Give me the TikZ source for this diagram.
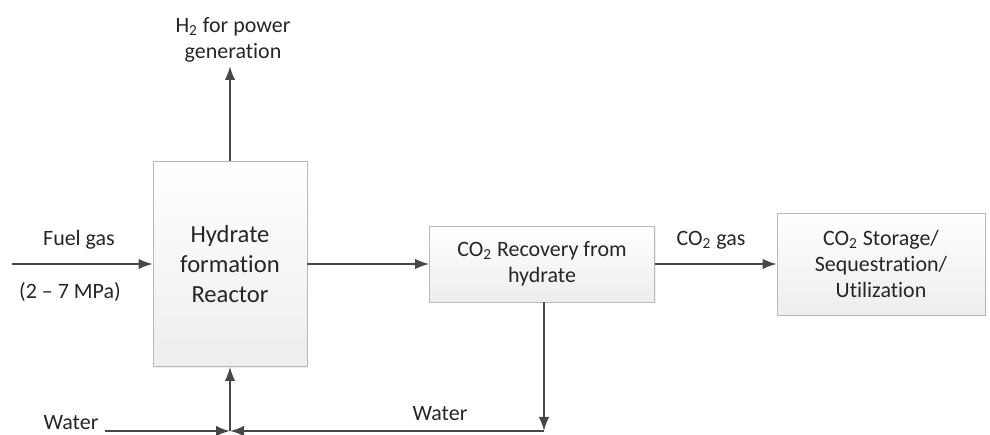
\documentclass[tikz,border=0pt]{standalone}
\usepackage{fontspec}
\setmainfont{Carlito}[Ligatures=NoCommon]
\usetikzlibrary{arrows.meta,shadows}
\begin{document}
\begin{tikzpicture}[x=0.02cm,y=0.02cm,
  blk/.style={draw=gray!55, top color=white, bottom color=gray!14, align=center,
    inner sep=0pt, text=black!85, font=\fontsize{12.5}{15}\selectfont,
    drop shadow={opacity=0.12,shadow xshift=0.6pt,shadow yshift=-0.6pt}},
  lbl/.style={align=center, text=black!85, font=\fontsize{12.5}{15}\selectfont},
  flow/.style={draw=black!72, line width=1.1pt, -{Latex[length=2.8mm,width=2.1mm]}}]

\useasboundingbox (0,0) rectangle (990,435);

% process blocks
\node[blk, minimum width=3.08cm, minimum height=4.1cm,
  font=\fontsize{14}{17}\selectfont] (reactor) at (230,171) {Hydrate\\formation\\Reactor};
\node[blk, minimum width=4.5cm, minimum height=1.52cm] (recovery) at (542,171)
  {CO\textsubscript{2} Recovery from\\hydrate};
\node[blk, minimum width=4.16cm, minimum height=2.04cm] (storage) at (881,171)
  {CO\textsubscript{2} Storage/\\Sequestration/\\Utilization};

% stream labels
\node[lbl] (h2) at (233,395) {H\textsubscript{2} for power\\generation};
\node[lbl] (fuel) at (79,195) {Fuel gas};
\node[lbl] (press) at (70,143) {(2 -- 7 MPa)};
\node[lbl] (co2gas) at (711,195) {CO\textsubscript{2} gas};
\node[lbl] (wleft) at (71,12) {Water};
\node[lbl] (wmid) at (440,21) {Water};

\coordinate (fuelin) at (12,171);
\coordinate (h2out) at (230,369);
\coordinate (join) at (230,4);
\coordinate (wturn) at (544,4);

% streams
\draw[flow] (fuelin) -- (reactor.west);
\draw[flow] (reactor.north) -- (h2out);
\draw[flow] (reactor.east) -- (recovery.west);
\draw[flow] (recovery.east) -- (storage.west);
\draw[flow] (recovery.south -| wturn) -- (wturn);
\draw[flow] (wturn) -- (join);
\draw[flow] (wleft.east |- join) -- (join);
\draw[flow] (join) -- (reactor.south);
\end{tikzpicture}
\end{document}
